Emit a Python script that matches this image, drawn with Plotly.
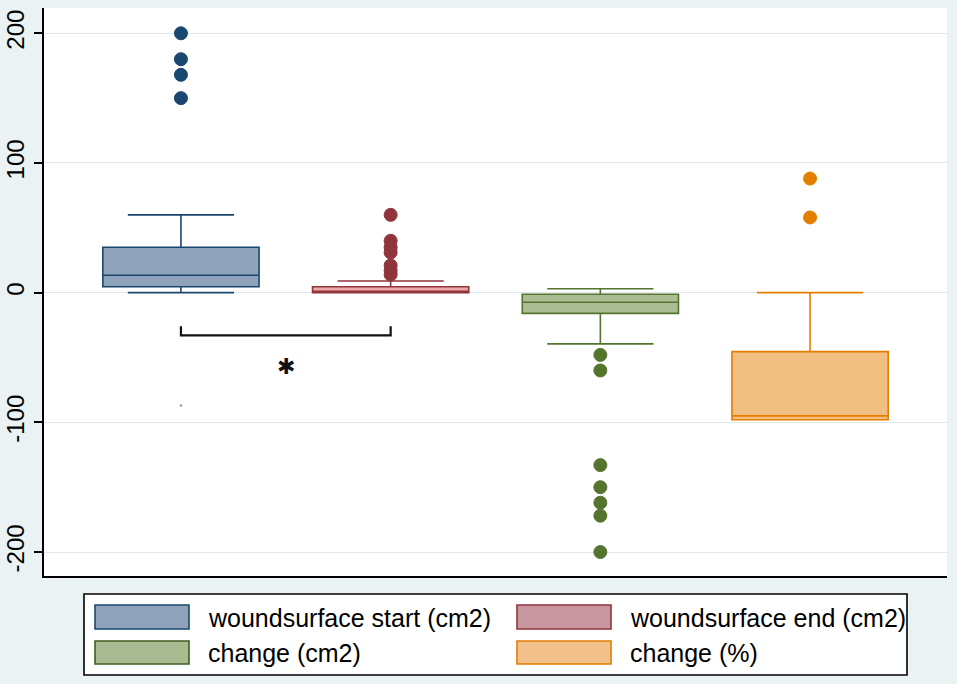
import plotly.graph_objects as go

# ---------------- data ----------------
categories = ["woundsurface start (cm2)", "woundsurface end (cm2)", "change (cm2)", "change (%)"]
q1 = [4.6, 0.0, -16.0, -98.0]
median = [13.4, 1.0, -7.4, -95.0]
q3 = [35.0, 4.6, -1.2, -45.5]
lower_whisker = [0.0, 0.0, -39.5, -98.0]
upper_whisker = [60.0, 9.0, 3.0, 0.0]
outliers = [
    [200, 180, 168, 150],
    [60, 40, 35, 31, 21, 17, 14],
    [-48, -60, -133, -150, -162, -172, -200],
    [88, 58],
]
y_ticks = [-200, -100, 0, 100, 200]
stray_point = [0, -87]          # faint dot visible in the original
bracket_groups = [0, 1]         # significance bracket between groups
bracket_y = [-26, -33]
star_y = -57

# ---------------- styles ----------------
line_colors = ["#1A476F", "#90353B", "#55752F", "#E37E00"]
box_fills = ["#8FA3BB", "#EDA6AB", "#AABD95", "#F1BF82"]
legend_fills = ["#8FA3BB", "#C9979F", "#A9BC91", "#F2C08A"]
legend_borders = ["#1A476F", "#90353B", "#3F5F1F", "#E37E00"]
FONT = "Liberation Sans, Arial, sans-serif"

W, H = 957, 684
L, R, T, B = 44, 947, 8, 576  # plot area in pixels

fig = go.Figure()
for i, name in enumerate(categories):
    fig.add_trace(go.Box(
        x=[i], q1=[q1[i]], median=[median[i]], q3=[q3[i]],
        lowerfence=[lower_whisker[i]], upperfence=[upper_whisker[i]],
        name=name, boxpoints=False, width=0.745, whiskerwidth=0.68,
        fillcolor=box_fills[i], line=dict(color=line_colors[i], width=1.6),
        showlegend=False, hoverinfo="skip",
    ))
    fig.add_trace(go.Scatter(
        x=[i] * len(outliers[i]), y=outliers[i], mode="markers",
        marker=dict(size=13, color=line_colors[i],
                    line=dict(color=line_colors[i], width=1)),
        showlegend=False, hoverinfo="skip",
    ))

fig.add_trace(go.Scatter(x=[stray_point[0]], y=[stray_point[1]], mode="markers",
                         marker=dict(size=2.5, color="#9a9a9a"),
                         showlegend=False, hoverinfo="skip"))

# significance bracket
xa, xb = bracket_groups
fig.add_trace(go.Scatter(
    x=[xa, xa, xb, xb], y=[bracket_y[0], bracket_y[1], bracket_y[1], bracket_y[0]],
    mode="lines", line=dict(color="#111111", width=2.2),
    showlegend=False, hoverinfo="skip"))
fig.add_annotation(x=(xa + xb) / 2, y=star_y, text="✱", showarrow=False,
                   font=dict(family="DejaVu Sans", size=22, color="#111111"),
                   xanchor="center", yanchor="middle")

# manual legend (Stata style)
def px_x(p):
    return (p - L) / (R - L)

def px_y(p):
    return (B - p) / (B - T)

shapes = [dict(type="rect", xref="paper", yref="paper",
               x0=px_x(84), x1=px_x(907), y0=px_y(675), y1=px_y(594),
               fillcolor="white", line=dict(color="black", width=1.6), layer="above")]
cols = [(95, 189, 206), (517, 611, 628)]
rows = [(605, 629, 618), (641, 664, 653)]
for i, name in enumerate(categories):
    c = cols[i % 2]
    r = rows[i // 2]
    shapes.append(dict(type="rect", xref="paper", yref="paper",
                       x0=px_x(c[0]), x1=px_x(c[1]), y0=px_y(r[1]), y1=px_y(r[0]),
                       fillcolor=legend_fills[i],
                       line=dict(color=legend_borders[i], width=1.6), layer="above"))
    fig.add_annotation(xref="paper", yref="paper", x=px_x(c[2]), y=px_y(r[2]),
                       text=name, showarrow=False, xanchor="left", yanchor="middle",
                       font=dict(family=FONT, size=25, color="black"))

fig.update_layout(
    width=W, height=H, autosize=False,
    margin=dict(l=L, r=W - R, t=T, b=H - B, pad=0, autoexpand=False),
    paper_bgcolor="#EAF2F3", plot_bgcolor="white",
    boxmode="overlay", shapes=shapes, showlegend=False,
    font=dict(family=FONT, color="black"),
)
fig.update_xaxes(range=[-0.653, 3.653], showticklabels=False, ticks="",
                 showgrid=False, zeroline=False, showline=True, automargin=False,
                 linecolor="black", linewidth=1.6)
fig.update_yaxes(range=[-218.5, 219.5], tickvals=y_ticks,
                 ticktext=[str(v) for v in y_ticks], tickangle=-90,
                 tickfont=dict(family=FONT, size=24, color="black"),
                 ticks="outside", ticklen=8, tickwidth=1.6, tickcolor="black",
                 showgrid=True, gridcolor="#DFE8EC", gridwidth=1.2, automargin=False,
                 zeroline=False, showline=True, linecolor="black", linewidth=1.6,
                 ticklabelstandoff=1)

fig.write_html("out.html", config={"displayModeBar": False},
               post_script="document.body.style.margin='0';")
